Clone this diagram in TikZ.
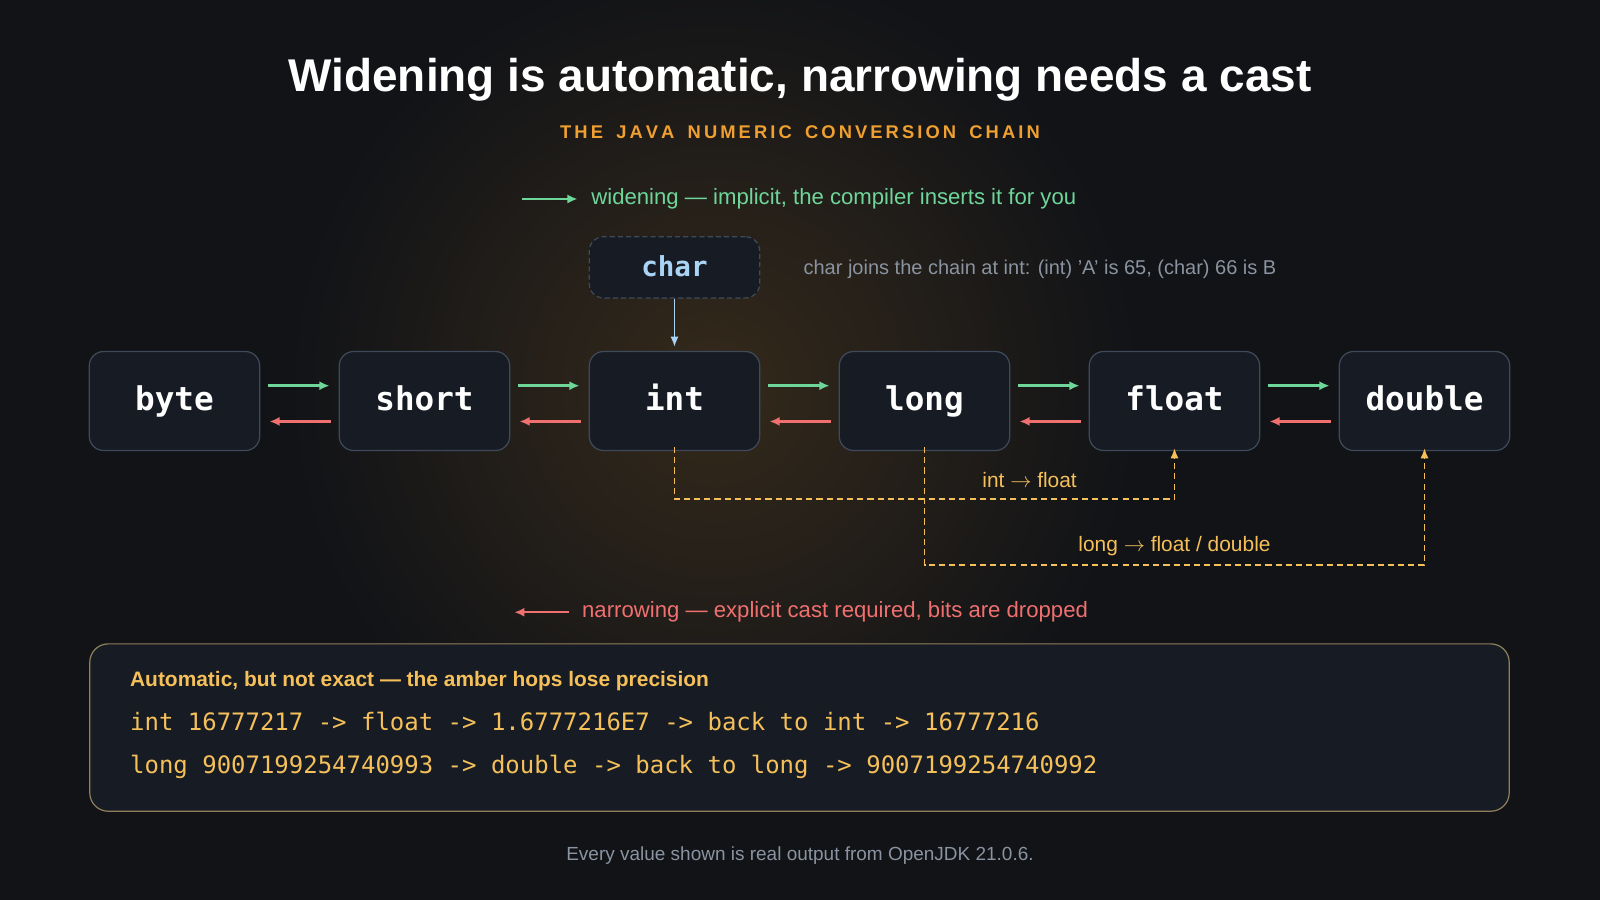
\documentclass[tikz,border=0pt]{standalone}
\usepackage{fontspec}
\setmainfont{Liberation Sans}
\setmonofont{DejaVu Sans Mono}
\usetikzlibrary{arrows.meta, positioning, calc}
\definecolor{bgdark}{HTML}{111317}
\definecolor{boxfill}{HTML}{161B24}
\definecolor{boxline}{HTML}{3E4A5A}
\definecolor{widegreen}{HTML}{6FD69A}
\definecolor{narrowred}{HTML}{F07070}
\definecolor{amber}{HTML}{F5C05A}
\definecolor{subamber}{HTML}{F0A030}
\definecolor{charblue}{HTML}{A9D4F5}
\definecolor{mutedgray}{HTML}{8A93A0}
\tikzset{
  type/.style={draw=boxline, line width=1.2pt, fill=boxfill, rounded corners=14pt,
    minimum width=167pt, minimum height=97pt, text=white, text height=22pt, text depth=4pt,
    font=\ttfamily\bfseries\fontsize{32}{34}\selectfont},
  widen/.style={-{Latex[length=10pt,width=9pt]}, widegreen, line width=2.4pt},
  narrow/.style={-{Latex[length=10pt,width=9pt]}, narrowred, line width=2.4pt},
  lossy/.style={-{Latex[length=10pt,width=8pt]}, amber, line width=1.8pt, dash pattern=on 6pt off 4pt},
}
\begin{document}
\begin{tikzpicture}[x=1pt, y=-1pt]
  % background
  \useasboundingbox (0,0) rectangle (1568,882);
  \fill[bgdark] (0,0) rectangle (1568,882);
  \begin{scope}
    \clip (0,0) rectangle (1568,882);
    \shade[inner color=subamber!16!bgdark, outer color=bgdark] (700,380) circle (420);
  \end{scope}

  % --- titles ---
  \node[text=white, font=\bfseries\fontsize{45}{50}\selectfont] (title) at (784,78) {Widening is automatic, narrowing needs a cast};
  \node[text=subamber, font=\bfseries\fontsize{18}{21}\selectfont] (subtitle) at (784,130) {T\,H\,E\;\, J\,A\,V\,A\;\, N\,U\,M\,E\,R\,I\,C\;\, C\,O\,N\,V\,E\,R\,S\,I\,O\,N\;\, C\,H\,A\,I\,N};

  % --- legend ---
  \coordinate (wl1) at (512,195);
  \coordinate (wl2) at (566,195);
  \draw[widen] (wl1) -- (wl2);
  \node[anchor=west, text=widegreen, font=\fontsize{21.7}{25}\selectfont] (wlegend) at (576,195) {widening — implicit, the compiler inserts it for you};
  \coordinate (nl1) at (558,600);
  \coordinate (nl2) at (504,600);
  \draw[narrow] (nl1) -- (nl2);
  \node[anchor=west, text=narrowred, font=\fontsize{21.7}{25}\selectfont] (nlegend) at (567,600) {narrowing — explicit cast required, bits are dropped};

  % --- chain ---
  \foreach \name/\x in {byte/171, short/416, int/661, long/906, float/1151, double/1396}
    \node[type] (\name) at (\x,393) {\name};
  \foreach \a/\b in {byte/short, short/int, int/long, long/float, float/double} {
    \draw[widen] ([xshift=8pt,yshift=15pt]\a.east) -- ([xshift=-9pt,yshift=15pt]\b.west);
    \draw[narrow] ([xshift=-8pt,yshift=-20pt]\b.west) -- ([xshift=9pt,yshift=-20pt]\a.east);
  }

  % --- char ---
  \node[type, dashed, dash pattern=on 5pt off 3pt, minimum height=60pt, text=charblue,
    font=\ttfamily\bfseries\fontsize{27}{30}\selectfont] (char) at (661,262) {char};
  \draw[-{Latex[length=10pt,width=8pt]}, charblue, line width=1.8pt] (char.south) -- ([yshift=4pt]int.north);
  \node[anchor=west, text=mutedgray, font=\fontsize{19.6}{23}\selectfont] (charnote) at (784,264) {char joins the chain at int: (int) 'A' is 65, (char) 66 is B};

  % --- lossy widening ---
  \draw[lossy] ([yshift=4pt]int.south) |- (1151,489) -- ([yshift=3pt]float.south);
  \node[text=amber, font=\fontsize{20.5}{23}\selectfont] (intfloat) at (1009,470) {int $\rightarrow$ float};
  \draw[lossy] ([yshift=4pt]long.south) |- (1396,554) -- ([yshift=3pt]double.south);
  \node[text=amber, font=\fontsize{20.5}{23}\selectfont] (longfd) at (1151,535) {long $\rightarrow$ float / double};

  % --- precision box ---
  \node[draw=amber!45!boxline, line width=1.2pt, fill=boxfill, rounded corners=18pt,
    minimum width=1391pt, minimum height=164pt] (precbox) at (783.5,713) {};
  \node[anchor=west, text=amber, font=\bfseries\fontsize{20.5}{24}\selectfont] (prectitle) at (124,667) {Automatic, but not exact — the amber hops lose precision};
  \node[anchor=west, text=amber, font=\ttfamily\fontsize{23.5}{27}\selectfont] (precint) at (124,707) {int 16777217 -> float -> 1.6777216E7 -> back to int -> 16777216};
  \node[anchor=west, text=amber, font=\ttfamily\fontsize{23.5}{27}\selectfont] (preclong) at (124,752) {long 9007199254740993 -> double -> back to long -> 9007199254740992};

  % --- footer ---
  \node[text=mutedgray, font=\fontsize{18.6}{21}\selectfont] (footer) at (784,838) {Every value shown is real output from OpenJDK 21.0.6.};
\end{tikzpicture}
\end{document}
